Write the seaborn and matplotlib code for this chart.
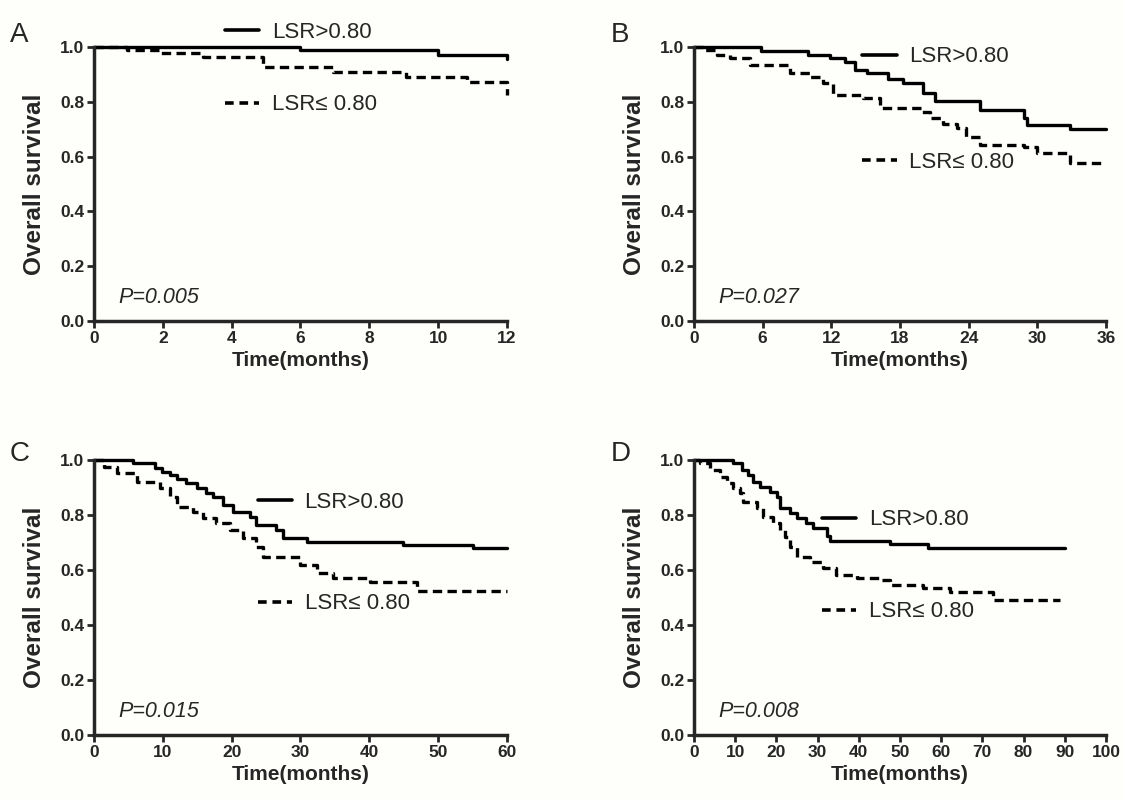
import numpy as np
import pandas as pd
import seaborn as sns
import matplotlib.pyplot as plt
from matplotlib.lines import Line2D

# panel A (12 months)
a_hi_t = [0, 6.0, 10.0, 12.0]
a_hi_s = [1.0, 0.99, 0.97, 0.955]
a_lo_t = [0, 0.95, 1.92, 3.18, 4.92, 6.95, 9.08, 10.83, 12.0]
a_lo_s = [1.0, 0.99, 0.977, 0.965, 0.928, 0.91, 0.89, 0.873, 0.825]

# panel B (36 months)
b_hi_t = [0, 5.9, 10.0, 11.9, 13.2, 14.1, 15.1, 17.0, 18.3, 20.0, 21.1, 25.0, 28.8, 29.1, 32.9, 36.0]
b_hi_s = [1.0, 0.987, 0.971, 0.959, 0.946, 0.916, 0.904, 0.882, 0.867, 0.831, 0.804, 0.77, 0.74, 0.715, 0.70, 0.70]
b_lo_t = [0, 0.82, 1.98, 3.15, 4.9, 8.39, 10.14, 11.3, 12.18, 14.8, 16.26, 19.8, 20.6, 21.8, 22.96, 23.8,
          25.0, 28.8, 29.95, 32.9, 36.0]
b_lo_s = [1.0, 0.99, 0.97, 0.96, 0.934, 0.904, 0.89, 0.867, 0.825, 0.813, 0.776, 0.764, 0.74, 0.72, 0.703,
          0.673, 0.642, 0.636, 0.612, 0.577, 0.577]

# panel C (60 months)
c_hi_t = [0, 5.7, 8.8, 9.9, 11.1, 12.0, 13.4, 14.9, 16.3, 17.3, 18.8, 20.2, 22.6, 23.6, 26.5, 27.5, 30.9,
          44.9, 55.1, 60.0]
c_hi_s = [1.0, 0.99, 0.97, 0.958, 0.945, 0.93, 0.915, 0.897, 0.879, 0.867, 0.836, 0.812, 0.794, 0.764,
          0.745, 0.718, 0.703, 0.691, 0.679, 0.679]
c_lo_t = [0, 1.4, 3.3, 6.2, 9.6, 11.0, 12.0, 14.4, 15.9, 17.8, 19.8, 21.7, 23.6, 24.6, 29.9, 32.4, 34.8,
          40.1, 46.9, 60.0]
c_lo_s = [1.0, 0.976, 0.951, 0.921, 0.897, 0.867, 0.83, 0.812, 0.788, 0.77, 0.745, 0.715, 0.685, 0.646,
          0.618, 0.588, 0.57, 0.556, 0.525, 0.525]

# panel D (100 months axis, follow-up to 90)
d_hi_t = [0, 9.5, 11.6, 13.2, 14.4, 16.0, 18.4, 20.1, 20.9, 23.3, 24.9, 27.3, 28.9, 32.2, 33.0, 47.6,
          56.9, 90.0]
d_hi_s = [1.0, 0.988, 0.964, 0.945, 0.921, 0.903, 0.885, 0.867, 0.824, 0.806, 0.788, 0.77, 0.752, 0.723,
          0.706, 0.694, 0.68, 0.68]
d_lo_t = [0, 1.5, 3.9, 6.3, 7.9, 9.5, 11.2, 12.0, 15.2, 16.8, 19.3, 20.9, 22.1, 23.3, 24.9, 28.2, 31.4,
          34.6, 39.5, 45.1, 47.6, 55.7, 62.1, 72.6, 88.8]
d_lo_s = [1.0, 0.988, 0.964, 0.94, 0.915, 0.897, 0.879, 0.848, 0.824, 0.794, 0.77, 0.745, 0.721, 0.685,
          0.648, 0.63, 0.606, 0.582, 0.57, 0.564, 0.545, 0.533, 0.521, 0.492, 0.492]

panel_letters = ['A', 'B', 'C', 'D']
p_values = ['P=0.005', 'P=0.027', 'P=0.015', 'P=0.008']
x_max = [12, 36, 60, 100]
x_step = [2, 6, 10, 10]

sns.set_style('ticks')
plt.rcParams['font.family'] = ['Liberation Sans', 'DejaVu Sans']

bg = '#fefefa'
fig = plt.figure(figsize=(11.24, 8.01), dpi=100, facecolor=bg)

# axes rectangles and legend anchors (figure fractions)
rects = [(0.0836, 0.5993, 0.3674, 0.3420), (0.6174, 0.5993, 0.3665, 0.3420),
         (0.0836, 0.0824, 0.3674, 0.3433), (0.6174, 0.0824, 0.3665, 0.3433)]
leg_hi = [(0.2002, 0.960), (0.767, 0.929), (0.2295, 0.373), (0.7313, 0.351)]
leg_lo = [(0.2002, 0.869), (0.767, 0.797), (0.2295, 0.246), (0.7313, 0.236)]
letter_pos = [(0.009, 0.956), (0.543, 0.956), (0.009, 0.433), (0.543, 0.433)]

data = [(a_hi_t, a_hi_s, a_lo_t, a_lo_s), (b_hi_t, b_hi_s, b_lo_t, b_lo_s),
        (c_hi_t, c_hi_s, c_lo_t, c_lo_s), (d_hi_t, d_hi_s, d_lo_t, d_lo_s)]

for i, (ht, hs, lt, ls) in enumerate(data):
    ax = fig.add_axes(rects[i])
    hi = pd.DataFrame({'t': ht, 's': hs})
    lo = pd.DataFrame({'t': lt, 's': ls})
    sns.lineplot(data=hi, x='t', y='s', ax=ax, color='black', lw=2.4, drawstyle='steps-post',
                 estimator=None, sort=False, clip_on=False)
    sns.lineplot(data=lo, x='t', y='s', ax=ax, color='black', lw=2.4, drawstyle='steps-post',
                 estimator=None, sort=False, clip_on=False, dashes=False, linestyle=(0, (2.8, 1.6)))
    ax.set_xlim(0, x_max[i])
    ax.set_ylim(0, 1.0)
    ax.set_xticks(np.arange(0, x_max[i] + 1, x_step[i]))
    ax.set_yticks(np.arange(0, 1.01, 0.2))
    ax.set_yticklabels(['%.1f' % v for v in np.arange(0, 1.01, 0.2)])
    for lab in ax.get_xticklabels() + ax.get_yticklabels():
        lab.set_fontweight('bold')
    ax.tick_params(labelsize=12.5, width=2, length=5, direction='out', pad=2)
    ax.set_xlabel('Time(months)', fontsize=15, fontweight='bold', labelpad=3.5)
    ax.set_ylabel('Overall survival', fontsize=17.5, fontweight='bold', labelpad=10)
    sns.despine(ax=ax)
    for side in ['left', 'bottom']:
        ax.spines[side].set_linewidth(2.5)
    ax.patch.set_alpha(0)

    h1 = Line2D([], [], color='black', lw=2.6)
    h2 = Line2D([], [], color='black', lw=2.6, linestyle=(0, (2.4, 1.6)))
    fig.legend([h1], ['LSR>0.80'], loc='center left', bbox_to_anchor=leg_hi[i], frameon=False,
               fontsize=16, handlelength=1.55, handletextpad=0.55, borderpad=0, borderaxespad=0)
    fig.legend([h2], ['LSR≤ 0.80'], loc='center left', bbox_to_anchor=leg_lo[i], frameon=False,
               fontsize=16, handlelength=1.55, handletextpad=0.55, borderpad=0, borderaxespad=0)

    ax.text(0.058, 0.085, p_values[i], transform=ax.transAxes, fontsize=15.5, style='italic',
            va='center', ha='left')
    fig.text(letter_pos[i][0], letter_pos[i][1], panel_letters[i], fontsize=20, va='center', ha='left')

fig.savefig('out.png', dpi=100, facecolor=bg)
